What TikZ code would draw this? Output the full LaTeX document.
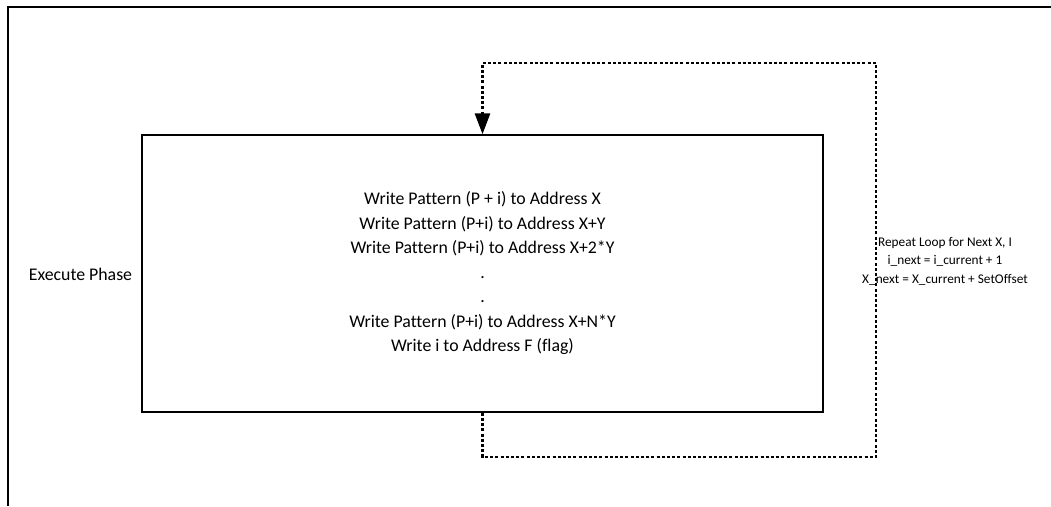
\documentclass[tikz,border=0pt]{standalone}
\usepackage{fontspec}
\setmainfont{Carlito}[Ligatures=NoCommon]
\usepackage{tikz}
\usetikzlibrary{positioning,arrows.meta}

\begin{document}
\begin{tikzpicture}[
  x=1pt, y=-1pt,
  font=\fontsize{17.8}{24.5}\selectfont,
  phasebox/.style={draw, line width=1.4pt, minimum width=681pt,
                   minimum height=277pt, align=center, inner sep=0pt},
  frame/.style={draw, line width=1.4pt},
  % dotted return path of the loop
  loopline/.style={line width=2.8pt, dash pattern=on 3pt off 2.2pt},
  note/.style={font=\fontsize{13.3}{18.5}\selectfont, align=center},
]
\useasboundingbox (0,0) rectangle (1051,506);

\draw[frame] (8,506) -- (8,7) -- (1051,7);

\node[phasebox] (exec) at (482.5,273.5)
  {Write Pattern (P + i) to Address X\\
   Write Pattern (P+i) to Address X+Y\\
   Write Pattern (P+i) to Address X+2*Y\\
   .\\
   .\\
   Write Pattern (P+i) to Address X+N*Y\\
   Write i to Address F (flag)};

\node (phase) at (80.5,274) {Execute Phase};

\coordinate (loopbr) at (876,457);
\coordinate (looptr) at (876,63);

\draw[loopline, -{Triangle[length=21pt, width=15pt]}]
  (exec.south) |- (loopbr) -- (looptr) -| (exec.north);

\node[note] (loopnote) at (945,261)
  {Repeat Loop for Next X, I\\
   i\_next = i\_current + 1\\
   X\_next = X\_current + SetOffset};

\end{tikzpicture}
\end{document}
